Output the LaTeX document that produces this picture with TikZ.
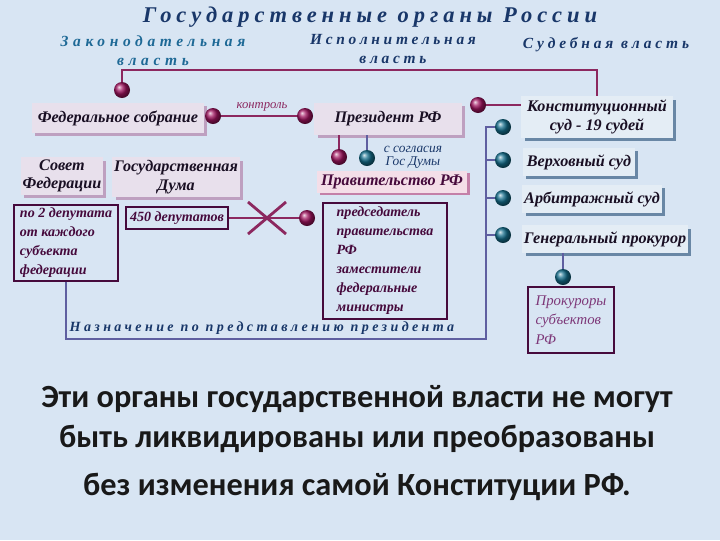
\documentclass[tikz,border=0pt]{standalone}
\usepackage{fontspec}
\setmainfont{Liberation Serif}
\newfontfamily\botfont{Carlito}
\usetikzlibrary{shadows}
\definecolor{bgblue}{RGB}{216,229,243}
\definecolor{legfill}{RGB}{232,224,236}
\definecolor{legshade}{RGB}{190,160,192}
\definecolor{govfill}{RGB}{244,222,232}
\definecolor{govshade}{RGB}{196,128,168}
\definecolor{courtfill}{RGB}{228,237,245}
\definecolor{courtshade}{RGB}{105,135,165}
\definecolor{linered}{RGB}{140,40,95}
\definecolor{lineblue}{RGB}{95,95,160}
\definecolor{ballred}{RGB}{160,20,95}
\definecolor{ballteal}{RGB}{20,110,140}
\definecolor{framecol}{RGB}{70,10,60}
\definecolor{boxtext}{RGB}{25,15,35}
\definecolor{navy}{RGB}{25,55,105}
\definecolor{tealtext}{RGB}{30,105,150}
\definecolor{prokcol}{RGB}{125,55,120}
\tikzstyle{legbox}=[rectangle,inner sep=1pt,text centered,align=center,fill=legfill,drop shadow={shadow xshift=0.08cm,shadow yshift=-0.08cm,fill=legshade,opacity=1},font=\fontsize{11.5}{13}\selectfont\bfseries\itshape,text=boxtext]
\tikzstyle{govbox}=[rectangle,inner sep=1pt,text centered,fill=govfill,drop shadow={shadow xshift=0.08cm,shadow yshift=-0.06cm,fill=govshade,opacity=1},font=\fontsize{11.5}{13}\selectfont\bfseries\itshape,text=framecol]
\tikzstyle{courtbox}=[rectangle,inner sep=1pt,text centered,align=center,fill=courtfill,drop shadow={shadow xshift=0.08cm,shadow yshift=-0.08cm,fill=courtshade,opacity=1},font=\fontsize{11.5}{13}\selectfont\bfseries\itshape,text=boxtext]
\tikzstyle{framebox}=[rectangle,inner sep=2pt,draw=framecol,line width=1.4pt,align=left,font=\fontsize{10}{13.5}\selectfont\bfseries\itshape,text=framecol]
\tikzstyle{redball}=[circle,inner sep=0pt,minimum size=0.4cm,shade,shading=ball,ball color=ballred]
\tikzstyle{blueball}=[circle,inner sep=0pt,minimum size=0.4cm,shade,shading=ball,ball color=ballteal]
\tikzstyle{redline}=[line width=2pt,draw=linered]
\tikzstyle{blueline}=[line width=2pt,draw=lineblue]
\tikzstyle{spaced}=[align=center,inner sep=0pt,font=\fontsize{11}{13.5}\selectfont\bfseries\itshape\addfontfeatures{LetterSpace=30}]

\begin{document}
\begin{tikzpicture}[x=0.025cm,y=-0.025cm]
            \fill[bgblue] (0,0) rectangle (720,540);
            \useasboundingbox (0,0) rectangle (720,540);
            \node (title)[spaced,text=navy,font=\fontsize{16}{18}\selectfont\bfseries\itshape\addfontfeatures{LetterSpace=22}] at (370,17) {Государственные органы России};
            \node (legis)[spaced,text=tealtext] at (153,51) {Законодательная\\власть};
            \node (exec)[spaced,text=navy,font=\fontsize{11}{13.5}\selectfont\bfseries\itshape\addfontfeatures{LetterSpace=24}] at (393,49) {Исполнительная\\власть};
            \node (judic)[spaced,text=navy,font=\fontsize{11}{13.5}\selectfont\bfseries\itshape\addfontfeatures{LetterSpace=25}] at (606,45) {Судебная власть};
            \node (fed)[legbox,minimum width=4.3cm,minimum height=0.75cm] at (118,118) {Федеральное собрание};
            \node (pres)[legbox,minimum width=3.68cm,minimum height=0.8cm] at (388,119) {Президент РФ};
            \node (kons)[courtbox,minimum width=3.78cm,minimum height=1.03cm] at (597,117) {Конституционный\\суд - 19 судей};
            \node (sovet)[legbox,minimum width=1.98cm,minimum height=0.93cm] at (62,176) {Совет\\Федерации};
            \node (duma)[legbox,minimum width=3.18cm,minimum height=0.98cm] at (176,177) {Государственная\\Дума};
            \node (gov)[govbox,minimum width=3.75cm,minimum height=0.55cm] at (392,182) {Правительство РФ};
            \node (verh)[courtbox,minimum width=2.8cm,minimum height=0.7cm] at (579,162) {Верховный суд};
            \node (arb)[courtbox,minimum width=3.48cm,minimum height=0.7cm] at (592,199) {Арбитражный суд};
            \node (gen)[courtbox,minimum width=4.13cm,minimum height=0.68cm] at (605,239) {Генеральный прокурор};
            \node (dep2)[framebox,minimum width=2.58cm,minimum height=1.68cm] at (66,243) {по 2 депутата\\от каждого\\субъекта\\федерации};
            \node (dep450)[framebox,minimum width=2.55cm,minimum height=0.53cm] at (177,218) {450 депутатов};
            \node (govlist)[framebox,minimum width=3.1cm,minimum height=2.88cm] at (385,261) {председатель\\правительства\\РФ\\заместители\\федеральные\\министры};
            \node (prok)[framebox,minimum width=2.15cm,minimum height=1.65cm,font=\fontsize{10.5}{14}\selectfont\itshape,text=prokcol] at (571,320) {Прокуроры\\субъектов\\РФ};
            \node (fedball)[redball] at (122,90) {};
            \node (ctrlA)[redball] at (213,116) {};
            \node (ctrlB)[redball] at (305,116) {};
            \node (presball)[redball] at (478,105) {};
            \node (govball)[redball] at (339,157) {};
            \node (cutball)[redball] at (307,218) {};
            \node (dumaball)[blueball] at (367,158) {};
            \node (k1)[blueball] at (503,127) {};
            \node (k2)[blueball] at (503,160) {};
            \node (k3)[blueball] at (503,198) {};
            \node (k4)[blueball] at (503,235) {};
            \node (prokball)[blueball] at (563,277) {};
            \node (ctrl)[text=linered,font=\fontsize{9}{10}\selectfont\itshape] at (262,107) {контроль};
            \node (agree)[align=center,text=navy,font=\fontsize{9.5}{9}\selectfont\itshape] at (413,157) {с согласия\\Гос Думы};
            \node (appoint)[spaced,text=navy,font=\fontsize{10}{12}\selectfont\bfseries\itshape\addfontfeatures{LetterSpace=24}] at (262,328) {Назначение по представлению президента};
            \node (bottom)[align=center,text=black!90,font=\botfont\bfseries\fontsize{23}{28.6}\selectfont] at (357,443) {Эти органы государственной власти не могут\\быть ликвидированы или преобразованы\\[6pt]без изменения самой Конституции РФ.};
            \coordinate (topR) at (597,70);
            \coordinate (vbot) at (486,339);
            \coordinate (vtop) at (486,127);
            \coordinate (cut) at (267,218);
            \draw [redline] (fedball) |- (topR) -- (kons.north);
            \draw [redline] (ctrlA) -- (ctrlB);
            \draw [redline] (presball) -- (presball -| kons.west);
            \draw [redline] (pres.south -| govball) -- (govball);
            \draw [blueline] (pres.south -| dumaball) -- (dumaball);
            \draw [redline] (dep450) -- (cutball);
            \draw [redline] (cut) ++(-19,-16) -- ++(38,32);
            \draw [redline] (cut) ++(19,-16) -- ++(-38,32);
            \draw [blueline] (dep2.south) |- (vbot) -- (vtop) -- (k1);
            \draw [blueline] (vtop |- k2) -- (k2);
            \draw [blueline] (vtop |- k3) -- (k3);
            \draw [blueline] (vtop |- k4) -- (k4);
            \draw [blueline] (gen.south -| prokball) -- (prokball);
\end{tikzpicture}
\end{document}
